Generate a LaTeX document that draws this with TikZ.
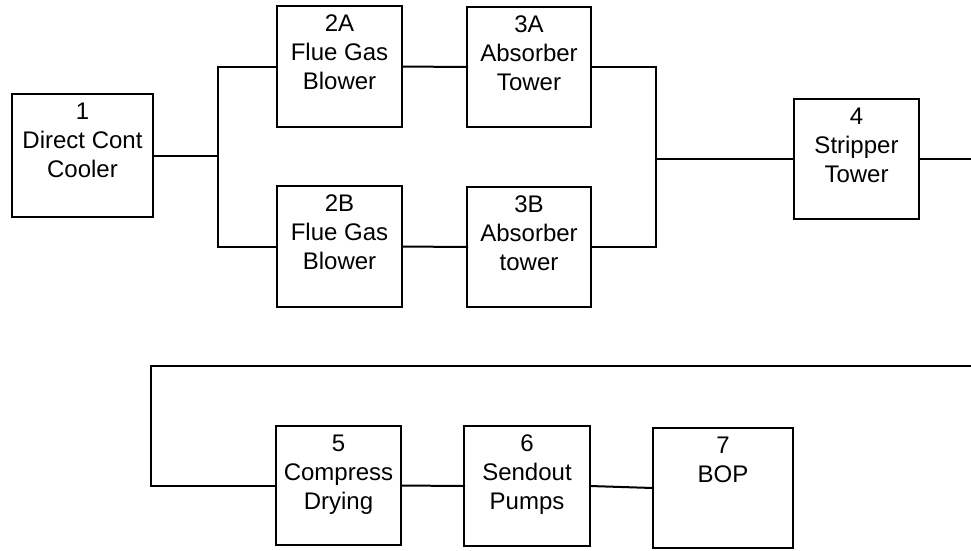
\documentclass[tikz,border=0pt]{standalone}
\usepackage{fontspec}
\setmainfont{Liberation Sans}
\begin{document}
\begin{tikzpicture}[x=1pt,y=-1pt,
  blk/.style={draw=black, line width=2.7pt, inner sep=0pt, outer sep=0pt, anchor=north west},
  wire/.style={draw=black, line width=2pt, line cap=rect}]
\useasboundingbox (0,0) rectangle (971,550);
\newcommand{\blktext}[3]{\parbox[c][#2pt][t]{#1pt}{\centering\fontsize{24}{29}\selectfont\rule{0pt}{25pt}#3\par}}
\node[blk] (b1)  at (12,94)  {\blktext{141}{123}{1\\Direct Cont\\Cooler}};
\node[blk] (b2a) at (277,6)  {\blktext{125}{121}{2A\\Flue Gas\\Blower}};
\node[blk] (b3a) at (467,7)  {\blktext{124}{120}{3A\\Absorber\\Tower}};
\node[blk] (b2b) at (277,186) {\blktext{125}{121}{2B\\Flue Gas\\Blower}};
\node[blk] (b3b) at (467,187) {\blktext{124}{120}{3B\\Absorber\\tower}};
\node[blk] (b4)  at (794,99) {\blktext{125}{120}{4\\Stripper\\Tower}};
\node[blk] (b5)  at (276,426) {\blktext{125}{119}{5\\Compress\\Drying}};
\node[blk] (b6)  at (464,426) {\blktext{126}{120}{6\\Sendout\\Pumps}};
\node[blk] (b7)  at (653,428) {\blktext{140}{120}{7\\BOP}};
\coordinate (e1) at (971,159);
\coordinate (e2) at (971,366);
% splitter after cooler
\draw[wire] (b1.east) -- (218,155.5) coordinate (s1);
\draw[wire] (b2a.west) -| (s1) |- (b2b.west);
\draw[wire] (b2a.east) -- (b3a.west);
\draw[wire] (b2b.east) -- (b3b.west);
\draw[wire] (b3a.east) -| (656,159) coordinate (s2);
\draw[wire] (b3b.east) -| (s2);
\draw[wire] (s2) -- (b4.west);
\draw[wire] (b4.east) -- (e1);
\draw[wire] (e2) -| (151,485.5) -- (b5.west);
\draw[wire] (b5.east) -- (b6.west);
\draw[wire] (b6.east) -- (b7.west);
\end{tikzpicture}
\end{document}
